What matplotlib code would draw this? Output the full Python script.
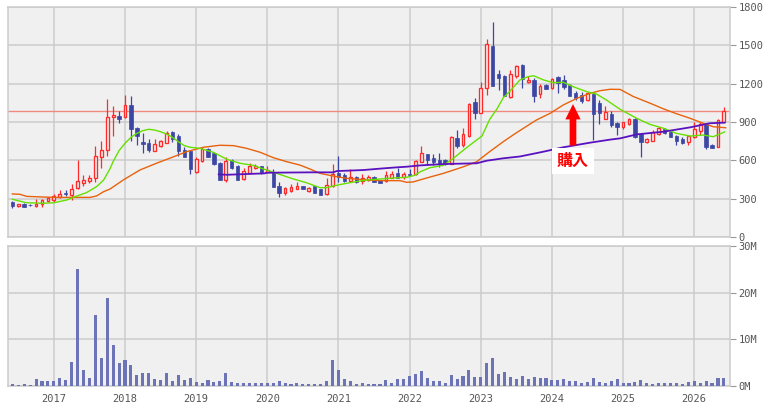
import matplotlib
matplotlib.use('Agg')
import matplotlib.pyplot as plt
import pandas as pd

# monthly candles, Jun 2016 .. Jun 2026
months = pd.period_range('2016-06', '2026-06', freq='M')

opens = [272, 240, 261, 253, 240, 255, 279, 287, 310, 345, 329, 386, 425, 441, 464, 625, 678, 942, 950, 937,
         1033, 851, 746, 738, 676, 715, 738, 818, 793, 678, 670, 509, 595, 686, 655, 582, 446, 600, 556, 451,
         503, 537, 553, 511, 511, 397, 342, 360, 378, 399, 360, 397, 373, 334, 399, 501, 483, 441, 472, 441,
         443, 467, 446, 441, 464, 501, 467, 493, 490, 590, 647, 616, 603, 603, 572, 777, 717, 793, 1054, 973,
         1169, 1492, 1273, 1263, 1093, 1263, 1346, 1210, 1229, 1122, 1190, 1163, 1250, 1229, 1190, 1124, 1109, 1072, 1120, 1046,
         926, 965, 895, 863, 884, 921, 806, 743, 754, 803, 843, 824, 790, 770, 746, 780, 832, 884, 720, 707,
         903]
highs = [282, 262, 265, 258, 297, 300, 313, 340, 369, 369, 413, 605, 483, 483, 712, 751, 1080, 1028, 986, 1111,
         1106, 863, 811, 764, 764, 759, 827, 830, 803, 707, 683, 629, 707, 694, 668, 585, 623, 610, 560, 537,
         577, 571, 556, 553, 532, 430, 394, 412, 430, 402, 394, 400, 375, 464, 574, 637, 498, 530, 477, 493,
         485, 480, 448, 517, 517, 543, 511, 530, 605, 712, 650, 652, 657, 610, 791, 837, 850, 1046, 1088, 1213,
         1547, 1680, 1307, 1266, 1304, 1346, 1354, 1260, 1242, 1197, 1197, 1242, 1260, 1268, 1195, 1145, 1132, 1132, 1127, 1072,
         1028, 989, 903, 903, 929, 929, 811, 775, 837, 863, 856, 837, 798, 780, 798, 897, 897, 895, 725, 921,
         1020]
lows = [230, 236, 235, 240, 236, 237, 276, 277, 302, 324, 290, 376, 399, 420, 433, 540, 637, 793, 890, 930,
        751, 717, 655, 668, 672, 707, 733, 743, 634, 623, 490, 503, 590, 623, 567, 444, 433, 530, 446, 446,
        498, 530, 496, 507, 392, 310, 329, 352, 375, 372, 355, 345, 327, 329, 394, 430, 430, 430, 425, 412,
        441, 428, 420, 430, 459, 459, 451, 480, 485, 588, 563, 563, 550, 563, 570, 697, 702, 785, 926, 968,
        1114, 1180, 1148, 1100, 1085, 1247, 1163, 1208, 1059, 1085, 1156, 1160, 1124, 1158, 1103, 1072, 1046, 1067, 759, 882,
        921, 863, 798, 843, 877, 772, 623, 738, 751, 796, 803, 780, 720, 728, 720, 772, 798, 686, 697, 702,
        898]
closes = [243, 258, 237, 249, 258, 289, 302, 320, 340, 335, 379, 436, 449, 464, 631, 678, 939, 952, 926, 1033,
          848, 790, 725, 681, 728, 751, 817, 770, 676, 629, 530, 613, 689, 629, 569, 448, 597, 537, 448, 517,
          558, 556, 498, 524, 394, 342, 381, 389, 399, 376, 386, 347, 329, 404, 493, 467, 438, 467, 428, 459,
          467, 430, 423, 483, 493, 464, 493, 485, 595, 655, 605, 588, 577, 572, 783, 712, 803, 1038, 973, 1163,
          1508, 1182, 1247, 1103, 1273, 1338, 1237, 1229, 1106, 1182, 1161, 1237, 1208, 1171, 1106, 1085, 1067, 1124, 962, 968,
          976, 875, 863, 898, 921, 780, 741, 770, 822, 856, 811, 785, 751, 738, 790, 845, 887, 707, 699, 916,
          986]
# volume in millions of shares
volumes = [0.43, 0.2, 0.43, 0.2, 1.57, 1.14, 1.14, 1.14, 1.79, 1.36, 5.14, 25.1, 3.43, 1.79, 15.2, 6.07, 18.9, 8.86, 5.0, 5.64,
           4.5, 2.43, 2.86, 2.86, 1.57, 1.36, 2.86, 1.14, 2.43, 1.36, 1.79, 0.93, 0.71, 1.36, 0.93, 1.14, 2.86, 0.93, 0.71, 0.71,
           0.71, 0.71, 0.71, 0.71, 0.71, 1.14, 0.71, 0.5, 0.71, 0.5, 0.5, 0.5, 0.5, 1.14, 5.64, 3.43, 1.57, 1.14, 0.5, 0.71,
           0.5, 0.5, 0.5, 1.36, 0.71, 1.57, 1.57, 2.2, 2.6, 3.2, 1.8, 1.14, 1.14, 0.71, 2.43, 1.57, 2.2, 3.5, 2.0, 2.0,
           4.9, 6.07, 2.64, 3.0, 2.0, 1.57, 2.2, 1.57, 2.0, 1.79, 1.79, 1.36, 1.36, 1.57, 1.14, 1.14, 0.71, 0.93, 1.79, 0.93,
           0.71, 1.14, 1.57, 0.71, 0.71, 0.93, 1.36, 0.71, 0.5, 0.71, 0.71, 0.71, 0.71, 0.5, 0.93, 1.14, 0.71, 1.14, 0.71, 1.79,
           1.64]

# moving average lines (position in months from Jun 2016, price)
green_x = [0, 2.4, 5.2, 7, 9.2, 10.9, 12.5, 14.2, 15.4, 16.5, 17, 18, 19, 20, 21, 22, 23, 24, 25, 26, 27, 28, 29, 30,
           31.6, 33.9, 36.2, 38.4, 40.6, 42.9, 45.1, 47.4, 49.6, 51.9, 53, 54.1, 55.8, 57.5, 59.8, 62, 64.3, 66.5, 67.9,
           68.8, 70.4, 72.7, 74.4, 76.1, 78.3, 79.2, 80.5, 81.7, 82.8, 83.9, 85.6, 87, 87.9, 89.6, 91.2, 92.9, 94.6, 96.9,
           98.5, 100.2, 102.5, 105.3, 107.5, 109.8, 112, 114.3, 116.5, 118.2, 120.1]
green_v = [295, 268, 264, 268, 290, 321, 347, 394, 446, 537, 590, 676, 733, 780, 811, 832, 843, 837, 824, 806, 780, 746, 715, 702,
           694, 663, 608, 577, 561, 524, 490, 454, 425, 386, 386, 399, 415, 430, 446, 454, 462, 467, 483,
           511, 542, 561, 616, 681, 759, 790, 920, 1000, 1090, 1140, 1229, 1255, 1262, 1229, 1208, 1211, 1176, 1137,
           1119, 1072, 999, 929, 882, 851, 811, 790, 798, 785, 822]
orange_x = [0, 1.3, 2.4, 5.2, 7, 13.1, 14.2, 15.4, 16.5, 18.7, 21.5, 24.3, 27.2, 29.4, 32.2, 35, 37.3, 39.5, 41.8, 44,
            46.3, 48.5, 50.2, 51.9, 54.1, 56.4, 58.6, 62, 65.4, 66.5, 67.6, 68.7, 70.5, 72.7, 76.1, 78.3, 80.5, 82.8,
            84.5, 86.2, 88.4, 90.7, 92.9, 95.2, 97.4, 99.1, 100.8, 102.5, 104.7, 107.5, 109.8, 112, 114.3, 116.5, 118.2, 120.3]
orange_v = [337, 334, 318, 313, 310, 310, 321, 355, 376, 446, 524, 577, 628, 668, 702, 718, 715, 694, 663, 621,
            589, 563, 532, 498, 477, 459, 451, 441, 441, 428, 431, 446, 470, 498, 550, 589, 668, 746,
            800, 851, 916, 968, 1033, 1085, 1124, 1145, 1156, 1155, 1100, 1048, 1003, 965, 929, 890, 863, 855]
purple_x = [34.8, 36.2, 42.5, 43, 50.2, 54.1, 54.7, 59.2, 62, 64.8, 66.5, 68.7, 72.7, 78.3, 80, 82.8, 85.6, 89.6,
            92.9, 97.4, 100.8, 102.5, 105.3, 109.8, 114.3, 117.6, 120.1]
purple_v = [490, 487, 498, 503, 506, 506, 516, 524, 535, 545, 550, 560, 571, 577, 597, 616, 630, 668,
            702, 738, 762, 772, 803, 824, 858, 890, 895]

ref_price = 986
buy_pos = 94.55

UP = '#ff2a2a'
DOWN = '#3b47a3'
BG = '#f0f0f0'
GRID = '#cccccc'

plt.rcParams['font.family'] = ['DejaVu Sans Mono']

W, H = 764, 408
fig = plt.figure(figsize=(W / 100, H / 100), dpi=100)
ax1 = fig.add_axes([8 / W, 1 - 237 / H, 722 / W, 230 / H])
ax2 = fig.add_axes([8 / W, 1 - 386 / H, 722 / W, 140 / H])

xs = list(range(len(months)))
jan_pos = [i for i, m in enumerate(months) if m.month == 1]
jan_lab = [str(months[i].year) for i in jan_pos]

for ax in (ax1, ax2):
    ax.set_facecolor(BG)
    ax.set_xlim(-0.73, 121.03)
    ax.set_xticks(jan_pos)
    ax.grid(True, color=GRID, linewidth=1.1)
    ax.set_axisbelow(True)
    for s in ax.spines.values():
        s.set_color(GRID)
        s.set_linewidth(1.1)
    ax.yaxis.tick_right()
    ax.tick_params(axis='y', direction='out', length=4, width=0.8, color='#999999',
                   labelcolor='#555555', labelsize=7.5, pad=2)

# candles
for i in xs:
    o, h, l, c = opens[i], highs[i], lows[i], closes[i]
    up = c >= o
    col = UP if up else DOWN
    ax1.vlines(i, l, h, color=col, linewidth=0.9, zorder=2)
    lo, hi = min(o, c), max(o, c)
    if hi - lo < 5:
        hi = lo + 5
    if up:
        ax1.bar(i, hi - lo, bottom=lo, width=0.47, facecolor=BG, edgecolor=col, linewidth=0.95, zorder=3)
    else:
        ax1.bar(i, hi - lo, bottom=lo, width=0.58, facecolor=col, edgecolor=col, linewidth=0.5, zorder=3)

ax1.axhline(ref_price, color='#f08a80', linewidth=1.0, zorder=1.5)
ax1.plot(orange_x, orange_v, color='#e8620c', linewidth=1.0, zorder=4)
ax1.plot(green_x, green_v, color='#66e000', linewidth=1.0, zorder=4)
ax1.plot(purple_x, purple_v, color='#5a12c0', linewidth=1.3, zorder=4)

ax1.set_ylim(0, 1800)
ax1.set_yticks(range(0, 1801, 300))
ax1.tick_params(axis='x', length=0, labelbottom=False)

ax1.annotate('', xy=(buy_pos, 1040), xytext=(buy_pos, 716),
             arrowprops=dict(arrowstyle='simple,head_length=1.1,head_width=1.1,tail_width=0.48',
                             color='#ff0000', lw=0, shrinkA=0, shrinkB=0, mutation_scale=10),
             zorder=6)
ax1.text(buy_pos, 594, '購入', color='#ff0000', fontsize=11.5, fontweight='bold',
         family=['Noto Sans CJK JP'], ha='center', va='center', zorder=6,
         bbox=dict(facecolor='white', edgecolor='none', pad=3.5))

# volume
ax2.bar(xs, volumes, width=0.52, color='#6c74b6', zorder=3)
ax2.set_ylim(0, 30)
ax2.set_yticks([0, 10, 20, 30])
ax2.set_yticklabels(['0M', '10M', '20M', '30M'])
ax2.set_xticklabels(jan_lab)
ax2.tick_params(axis='x', length=0, labelsize=7.5, labelcolor='#555555', pad=6)

fig.savefig('out.png', dpi=100)
